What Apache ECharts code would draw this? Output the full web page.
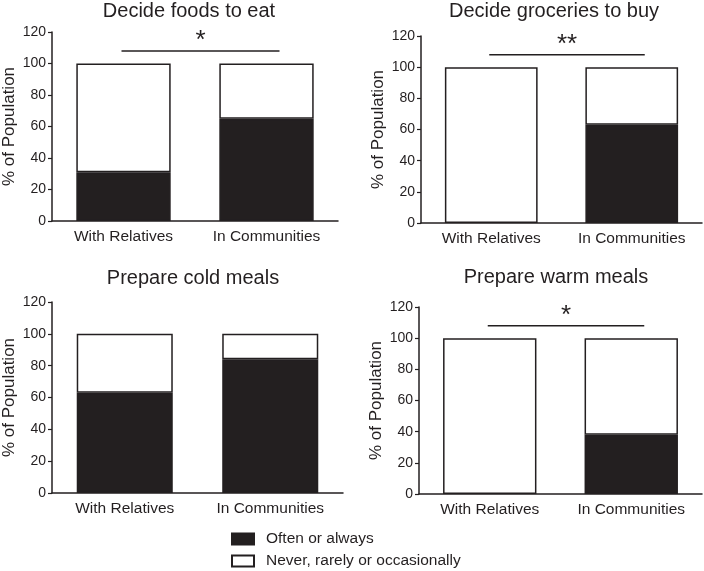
<!DOCTYPE html>
<html><head><meta charset="utf-8">
<script src="https://cdn.jsdelivr.net/npm/echarts@6/dist/echarts.min.js"></script>
<style>html,body{margin:0;padding:0;background:#fff}#c{width:704px;height:571px}</style>
</head><body><div id="c"></div>
<script>
const categories = ['With Relatives', 'In Communities'];
const panelTitles = ['Decide foods to eat', 'Decide groceries to buy', 'Prepare cold meals', 'Prepare warm meals'];
const oftenValues = [[31, 65], [0, 63], [63, 84], [0, 38]];
const neverValues = [[69, 35], [100, 37], [37, 16], [100, 62]];
const yTicks = [0, 20, 40, 60, 80, 100, 120];
const seriesNames = ['Often or always', 'Never, rarely or occasionally'];
const sigLabels = ['*', '**', '', '*'];

const INK = '#231f20';
const FONT = 'Liberation Sans, Arial, Helvetica, sans-serif';
const grids = [
  {left: 52, top: 32, width: 286, height: 189},
  {left: 421, top: 36, width: 281, height: 187},
  {left: 52, top: 302, width: 291, height: 191},
  {left: 419, top: 307, width: 283, height: 187}
];
const titleCenters = [[189, 1], [554, 1], [193, 268], [556, 267]];

const chart = echarts.init(document.getElementById('c'), null, {renderer: 'canvas'});
const legendBase = {
  orient: 'horizontal', left: 231, icon: 'rect',
  itemWidth: 22, itemHeight: 11,
  textStyle: {fontSize: 15.5, color: INK, fontFamily: FONT, padding: [0, 0, 0, 7]},
  selectedMode: false, padding: 0
};
const option = {
  animation: false,
  backgroundColor: '#fff',
  textStyle: {fontFamily: FONT},
  title: panelTitles.map((t, i) => ({
    text: t, left: titleCenters[i][0], top: titleCenters[i][1], textAlign: 'center', padding: 0,
    textStyle: {fontSize: 20, fontWeight: 'normal', color: INK, fontFamily: FONT}
  })),
  legend: [
    Object.assign({}, legendBase, {data: [seriesNames[0]], top: 531}),
    Object.assign({}, legendBase, {data: [seriesNames[1]], top: 553})
  ],
  grid: grids,
  xAxis: grids.map((g, i) => ({
    type: 'category', gridIndex: i, data: categories,
    axisLine: {lineStyle: {color: INK, width: 1.5}},
    axisTick: {alignWithLabel: true, length: 4, lineStyle: {color: INK, width: 1.2}},
    axisLabel: {fontSize: 15.5, color: INK, margin: 8, fontFamily: FONT}
  })),
  yAxis: grids.map((g, i) => ({
    type: 'value', gridIndex: i, min: yTicks[0], max: yTicks[yTicks.length - 1], interval: 20,
    name: '% of Population', nameLocation: 'middle', nameGap: 34,
    nameTextStyle: {fontSize: 17, color: INK, fontFamily: FONT},
    axisLine: {show: true, lineStyle: {color: INK, width: 1.5}},
    axisTick: {show: true, length: 4, lineStyle: {color: INK, width: 1.2}},
    axisLabel: {fontSize: 14, color: INK, margin: 6, fontFamily: FONT},
    splitLine: {show: false}
  })),
  series: []
};
const nz = arr => arr.map(v => (v === 0 ? null : v));
grids.forEach((g, i) => {
  option.series.push({
    name: seriesNames[0], type: 'bar', stack: 's' + i, xAxisIndex: i, yAxisIndex: i,
    data: nz(oftenValues[i]), barWidth: '66%',
    itemStyle: {color: INK, borderColor: INK, borderWidth: 1.5}
  });
  option.series.push({
    name: seriesNames[1], type: 'bar', stack: 's' + i, xAxisIndex: i, yAxisIndex: i,
    data: nz(neverValues[i]), barWidth: '66%',
    itemStyle: {color: '#fff', borderColor: INK, borderWidth: 1.5}
  });
});
chart.setOption(option);

// significance brackets
const sigY = 108;
const graphics = [];
grids.forEach((g, i) => {
  if (!sigLabels[i]) return;
  const p0 = chart.convertToPixel({gridIndex: i}, [0, sigY]);
  const p1 = chart.convertToPixel({gridIndex: i}, [1, sigY]);
  const x0 = p0[0] - 2, x1 = p1[0] + 13;
  graphics.push({type: 'line', shape: {x1: x0, y1: p0[1], x2: x1, y2: p0[1]}, style: {stroke: INK, lineWidth: 1.5}});
  graphics.push({type: 'text', x: (x0 + x1) / 2, y: p0[1] + 3,
    style: {text: sigLabels[i], fill: INK, fontSize: 26, fontFamily: FONT, textAlign: 'center', textVerticalAlign: 'bottom'}});
});
chart.setOption({graphic: graphics});
</script></body></html>
